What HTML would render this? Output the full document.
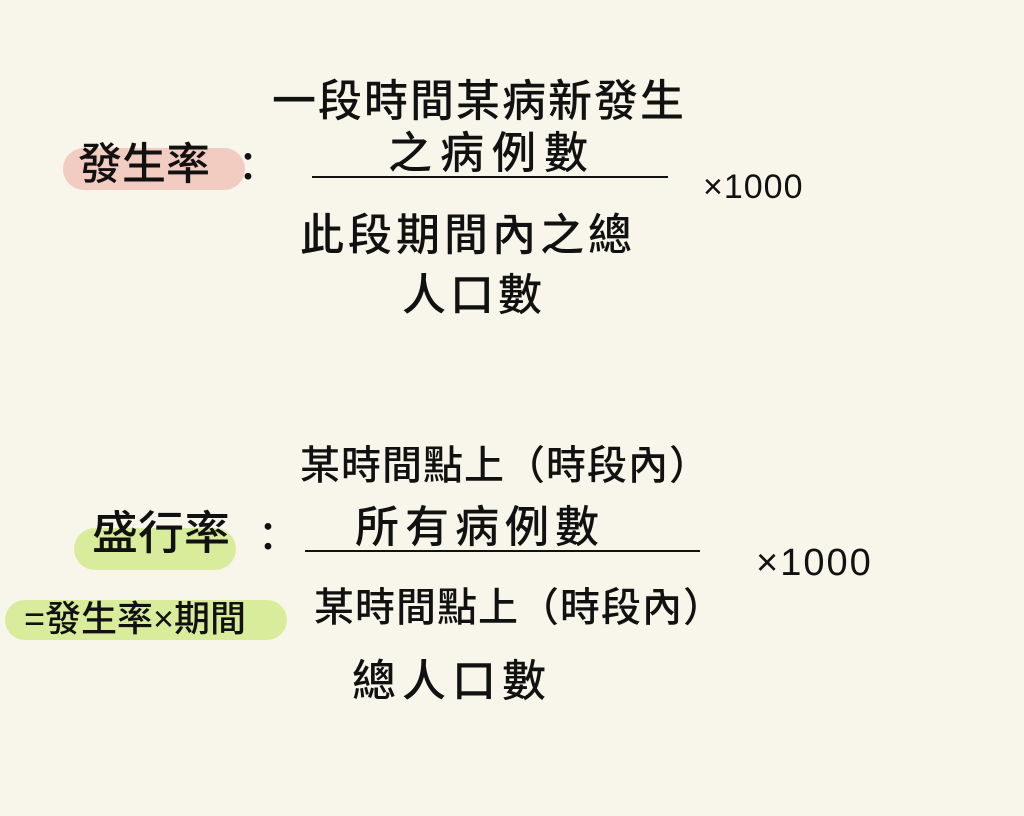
<!DOCTYPE html>
<html><head><meta charset="utf-8"><style>
html,body{margin:0;padding:0}
body{width:1024px;height:816px;background:#f8f5ea;position:relative;overflow:hidden;font-family:"Liberation Sans","Noto Sans CJK TC",sans-serif;color:#111}
.t{position:absolute;white-space:nowrap;line-height:1;font-weight:500}
.hl{position:absolute;border-radius:22px}
.ln{position:absolute;height:2px;background:#111}
</style></head><body>
<div class="hl" style="left:63px;top:148px;width:182px;height:42px;background:#f2cbc1"></div>
<div class="hl" style="left:74px;top:528px;width:162px;height:42px;background:#d9ec9c"></div>
<div class="hl" style="left:5px;top:600px;width:282px;height:40px;background:#d9ec9c"></div>

<div class="t" style="left:78px;top:143px;font-size:44px">發生率</div>
<div class="t" style="left:228px;top:148px;font-size:40px">：</div>
<div class="t" style="left:272px;top:80px;font-size:44px;letter-spacing:2px">一段時間某病新發生</div>
<div class="t" style="left:388px;top:132px;font-size:44px;letter-spacing:8px">之病例數</div>
<div class="ln" style="left:312px;top:176px;width:356px"></div>
<div class="t" style="left:300px;top:214px;font-size:44px;letter-spacing:4px">此段期間內之總</div>
<div class="t" style="left:402px;top:274px;font-size:44px;letter-spacing:4px">人口數</div>
<div class="t" style="left:703px;top:170px;font-size:34px;letter-spacing:1px">×1000</div>

<div class="t" style="left:92px;top:510px;font-size:46px">盛行率</div>
<div class="t" style="left:248px;top:518px;font-size:40px">：</div>
<div class="t" style="left:300px;top:446px;font-size:40px;letter-spacing:1px">某時間點上（時段內）</div>
<div class="t" style="left:355px;top:506px;font-size:44px;letter-spacing:6px">所有病例數</div>
<div class="ln" style="left:305px;top:550px;width:395px"></div>
<div class="t" style="left:314px;top:588px;font-size:40px;letter-spacing:1px">某時間點上（時段內）</div>
<div class="t" style="left:352px;top:660px;font-size:44px;letter-spacing:6px">總人口數</div>
<div class="t" style="left:756px;top:544px;font-size:38px;letter-spacing:2px">×1000</div>
<div class="t" style="left:24px;top:601px;font-size:36px">=發生率×期間</div>
</body></html>
